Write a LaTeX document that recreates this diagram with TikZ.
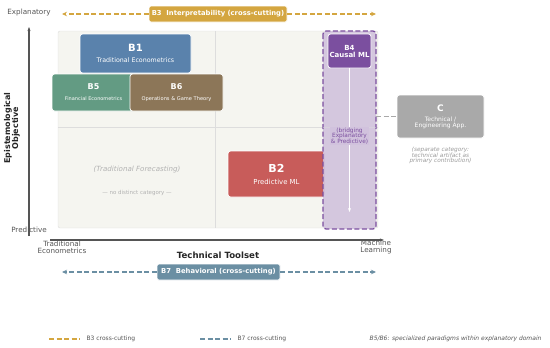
\documentclass[tikz,border=0pt]{standalone}
\usepackage{fontspec}
\setmainfont{DejaVu Sans}
\usetikzlibrary{arrows.meta,positioning,calc}
\definecolor{goldcut}{HTML}{D4A640}
\definecolor{behcut}{HTML}{6B8FA3}
\definecolor{econblue}{HTML}{5A82AC}
\definecolor{fingreen}{HTML}{639B83}
\definecolor{opsbrown}{HTML}{8C7658}
\definecolor{causalpur}{HTML}{7B4F9F}
\definecolor{bridgebg}{HTML}{D1C2DD}
\definecolor{techgray}{HTML}{A9A9A9}
\definecolor{predred}{HTML}{C85C5A}
\definecolor{gridbg}{HTML}{F5F5F0}
\definecolor{gridrule}{HTML}{DDDDDD}
\definecolor{axisgray}{HTML}{555555}
\definecolor{notegray}{HTML}{9A9A9A}
\newcommand{\fs}[1]{\fontsize{#1}{#1}\selectfont}

\begin{document}
\begin{tikzpicture}[
  x=1pt, y=-1pt, font=\fs{6},
  cat/.style={rounded corners=2.5pt, draw=white, line width=0.8pt, fill=#1,
              text=white, align=center, inner sep=0pt},
  cut/.style={cat=#1, rounded corners=1.5pt, font=\fs{6.8}\bfseries},
  axislab/.style={text=axisgray, align=center, font=\fs{7.2}},
  note/.style={text=notegray, align=center, font=\fs{5}\itshape},
  axis/.style={-{Stealth[length=4pt]}, axisgray, line width=1.1pt},
  longdash/.style={dash pattern=on 5pt off 2.5pt},
  cutline/.style={longdash, -{Stealth[length=5pt, width=4.5pt]}, line width=1.1pt, #1},
]
\useasboundingbox (0,0) rectangle (550,348);

% quadrant grid
\draw[gridrule, fill=gridbg, rounded corners=2pt] (58,31) rectangle (378,228);
\draw[gridrule, line width=0.8pt] (215,31) -- (215,228);
\draw[gridrule, line width=0.8pt] (58,127) -- (378,127);

% axes
\coordinate (ybot) at (29,236);
\coordinate (ytop) at (29,27);
\coordinate (xleft) at (50,240);
\coordinate (xright) at (384,240);
\draw[axis] (ybot) -- (ytop);
\draw[axis] (xleft) -- (xright);
\node[axislab] (expl) at (29,13) {Explanatory};
\node[axislab] (pred) at (29,230) {Predictive};
\node[axislab, rotate=90, font=\fs{8}\bfseries, text=black!85] (yname) at (12,128)
  {Epistemological\\Objective};
\node[axislab] (trad) at (62,247) {Traditional\\Econometrics};
\node[axislab] (ml) at (376,247) {Machine\\Learning};
\node[font=\fs{8.6}\bfseries, text=black!85] (xname) at (218,255) {Technical Toolset};

% empty quadrant
\node[note, font=\fs{7.1}\itshape, text=black!30] (fore) at (137,170) {(Traditional Forecasting)};
\node[note, font=\fs{5.5}, text=black!30] (nocat) at (137,193) {--- no distinct category ---};

% categories
\node[cat=econblue, minimum width=111pt, minimum height=39pt] (b1) at (135.5,53.5)
  {{\fs{10}\bfseries B1}\\[5pt]{\fs{6.3}Traditional Econometrics}};
\node[cat=fingreen, minimum width=83pt, minimum height=37pt] (b5) at (93.5,92.5)
  {{\fs{8}\bfseries B5}\\[5pt]{\fs{5}Financial Econometrics}};
\node[cat=opsbrown, minimum width=93pt, minimum height=37pt] (b6) at (176.5,92.5)
  {{\fs{8}\bfseries B6}\\[5pt]{\fs{5.1}Operations \& Game Theory}};
\node[cat=predred, minimum width=97pt, minimum height=46pt] (b2) at (276.5,174)
  {{\fs{11}\bfseries B2}\\[6pt]{\fs{6.9}Predictive ML}};

% bridging column
\draw[causalpur, longdash, line width=1.3pt, fill=bridgebg, fill opacity=0.9,
      rounded corners=3pt] (323,31) rectangle (376,229);
\draw[gridrule, line width=0.6pt, opacity=0.5] (323,127) -- (376,127);
\node[cat=causalpur, minimum width=43pt, minimum height=34pt, font=\fs{7}\bfseries] (b4)
  at (349.5,51) {B4\\Causal ML};
\coordinate (b4end) at (349.5,212);
\draw[white, line width=1pt, -{Stealth[length=4pt]}] (b4) -- (b4end);
\node[fill=bridgebg, text=causalpur, align=center, font=\fs{5.8}, inner sep=0.5pt] (bridge)
  at (349.5,136) {(bridging\\Explanatory\\\& Predictive)};

% separate category
\node[cat=techgray, minimum width=87pt, minimum height=43pt, font=\fs{6}] (tech) at (440.5,116.5)
  {{\fs{9}\bfseries C}\\[4pt]Technical /\\Engineering App.};
\coordinate (coledge) at (376,116.5);
\draw[techgray, longdash, line width=1pt] (coledge) -- (tech);
\node[note, font=\fs{5.8}\itshape, below=5pt of tech] (sep)
  {(separate category:\\technical artifact as\\primary contribution)};

% cross-cutting dimensions
\coordinate (b3l) at (62,14);
\coordinate (b3r) at (376,14);
\coordinate (b7l) at (62,272);
\coordinate (b7r) at (376,272);
\node[cut=goldcut, minimum width=138pt, minimum height=16pt] (b3) at (218,14)
  {B3\ \ Interpretability (cross-cutting)};
\node[cut=behcut, minimum width=123pt, minimum height=16pt] (b7) at (218.5,272)
  {B7\ \ Behavioral (cross-cutting)};
\foreach \a/\b/\c in {b3/b3l/goldcut, b3/b3r/goldcut, b7/b7l/behcut, b7/b7r/behcut}
  \draw[cutline=\c] (\a) -- (\b);

% legend
\coordinate (lg1a) at (49,339);
\coordinate (lg1b) at (80,339);
\coordinate (lg2a) at (200,339);
\coordinate (lg2b) at (231,339);
\draw[goldcut, longdash, line width=1.4pt] (lg1a) -- (lg1b);
\draw[behcut, longdash, line width=1.4pt] (lg2a) -- (lg2b);
\node[axislab, font=\fs{6}, right=3pt of lg1b] (lgt1) {B3 cross-cutting};
\node[axislab, font=\fs{6}, right=3pt of lg2b] (lgt2) {B7 cross-cutting};
\node[axislab, font=\fs{6}\itshape, anchor=east] (lgt3) at (545,339)
  {B5/B6: specialized paradigms within explanatory domain};
\end{tikzpicture}
\end{document}
